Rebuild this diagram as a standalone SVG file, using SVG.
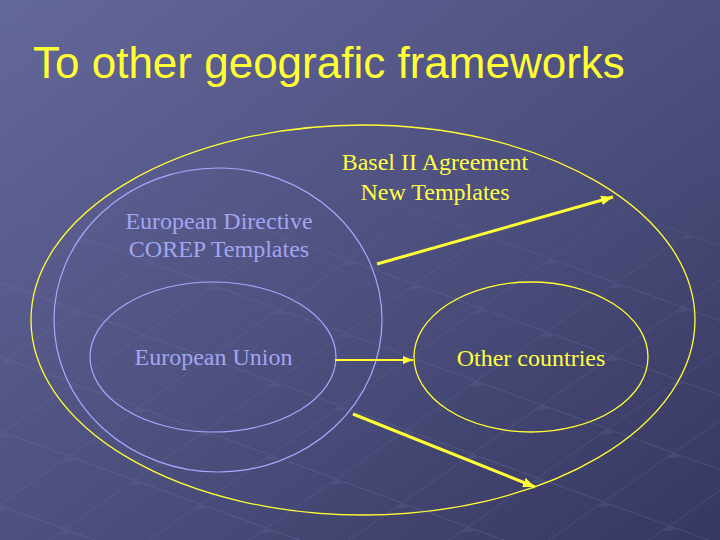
<svg xmlns="http://www.w3.org/2000/svg" width="720" height="540" viewBox="0 0 720 540">
  <defs>
    <linearGradient id="bg" x1="0" y1="0" x2="1" y2="1">
      <stop offset="0" stop-color="#64679a"/>
      <stop offset="0.5" stop-color="#4e507f"/>
      <stop offset="1" stop-color="#363860"/>
    </linearGradient>
    <pattern id="grid" width="70" height="70" patternUnits="userSpaceOnUse" patternTransform="translate(20,140) rotate(20) skewX(-35)">
      <path d="M0 0 H70 M0 0 V70" stroke="#8a8cc0" stroke-width="1.5" fill="none"/>
      <ellipse cx="0" cy="0" rx="9" ry="7" fill="#6a6c9c"/>
    </pattern>
    <linearGradient id="fade" x1="0" y1="0" x2="0" y2="1">
      <stop offset="0" stop-color="#fff" stop-opacity="0"/>
      <stop offset="0.25" stop-color="#fff" stop-opacity="0"/>
      <stop offset="0.5" stop-color="#fff" stop-opacity="0.5"/>
      <stop offset="1" stop-color="#fff" stop-opacity="0.6"/>
    </linearGradient>
    <mask id="gm">
      <rect width="720" height="540" fill="url(#fade)"/>
    </mask>
    <marker id="ah" viewBox="0 0 10 8" refX="10" refY="4" markerWidth="4" markerHeight="3.2" orient="auto" markerUnits="strokeWidth">
      <path d="M0 0 L10 4 L0 8 Z" fill="#ffff33"/>
    </marker>
    <marker id="ah2" viewBox="0 0 10 8" refX="10" refY="4" markerWidth="5" markerHeight="4" orient="auto" markerUnits="strokeWidth">
      <path d="M0 0 L10 4 L0 8 Z" fill="#ffff33"/>
    </marker>
    <style>
      .title{font-family:'Liberation Sans',Arial,sans-serif;font-size:44px;fill:#ffff33}
      .lbl{font-family:'Liberation Serif','DejaVu Serif','Times New Roman',serif;font-size:24px;text-anchor:middle}
      .y{fill:#ffff44}
      .b{fill:#a3a5f0}
      .ey{fill:none;stroke:#ffff33;stroke-width:1.3}
      .eb{fill:none;stroke:#a6a9ff;stroke-width:1.2}
      .arr{stroke:#ffff33;fill:none}
    </style>
  </defs>
  <rect width="720" height="540" fill="url(#bg)"/>
  <rect width="720" height="540" fill="url(#grid)" mask="url(#gm)" opacity="0.45"/>

  <text class="title" x="33" y="78">To other geografic frameworks</text>

  <g id="basel">
    <ellipse class="ey" cx="363" cy="320" rx="332" ry="195"/>
    <text class="lbl y" x="435" y="170" font-family="Liberation Serif, serif">Basel II Agreement</text>
    <text class="lbl y" x="435" y="200" font-family="Liberation Serif, serif">New Templates</text>
  </g>
  <g id="directive">
    <ellipse class="eb" cx="218" cy="320" rx="164" ry="152"/>
    <text class="lbl b" x="219" y="229">European Directive</text>
    <text class="lbl b" x="219" y="257">COREP Templates</text>
  </g>
  <g id="eu">
    <ellipse class="eb" cx="213" cy="357" rx="123" ry="75"/>
    <text class="lbl b" x="213.5" y="365">European Union</text>
  </g>
  <g id="other">
    <ellipse class="ey" cx="531" cy="357" rx="117" ry="75"/>
    <text class="lbl y" x="531" y="366">Other countries</text>
  </g>

  <g id="connectors">
    <line class="arr" x1="335" y1="360" x2="413" y2="360" stroke-width="2" marker-end="url(#ah2)"/>
    <line class="arr" x1="377" y1="264" x2="613" y2="197" stroke-width="3" marker-end="url(#ah)"/>
    <line class="arr" x1="353" y1="414" x2="535" y2="487" stroke-width="3" marker-end="url(#ah)"/>
  </g>
</svg>
